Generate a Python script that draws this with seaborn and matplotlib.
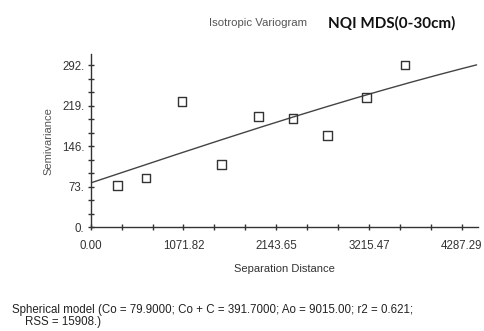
import numpy as np
import pandas as pd
import matplotlib
matplotlib.use("Agg")
import matplotlib.pyplot as plt
from matplotlib.ticker import MultipleLocator
import seaborn as sns

# Data
lag_distance = [307, 639, 1055, 1514, 1941, 2338, 2739, 3186, 3632]
semivariance = [75, 89, 226, 113, 199, 196, 165, 234, 292]

# Spherical model parameters (from the caption)
nugget = 79.9
sill = 391.7
model_range = 9015.0

x_ticks = [0.00, 1071.82, 2143.65, 3215.47, 4287.29]
x_ticklabels = ["0.00", "1071.82", "2143.65", "3215.47", "4287.29"]
y_ticks = [0, 73, 146, 219, 292]
y_ticklabels = ["0.", "73.", "146.", "219.", "292."]

sns.set_style("white")
plt.rcParams["font.family"] = ["Liberation Sans", "DejaVu Sans"]

fig = plt.figure(figsize=(4.84, 3.31), dpi=100)
ax = fig.add_axes([0.1874, 0.3133, 0.8002, 0.5236])

pts = pd.DataFrame({"h": lag_distance, "g": semivariance})
h = np.linspace(0, 4460, 200)
hr = h / model_range
gamma = nugget + (sill - nugget) * (1.5 * hr - 0.5 * hr ** 3)
model = pd.DataFrame({"h": h, "g": gamma})

sns.lineplot(data=model, x="h", y="g", ax=ax, color="#444444", linewidth=1.0)
sns.scatterplot(data=pts, x="h", y="g", ax=ax, marker="s", s=38,
                facecolor="none", edgecolor="#333333", linewidth=1.0, zorder=3)

ax.set_xlim(0, 4476)
ax.set_ylim(0, 312)
ax.set_xticks(x_ticks)
ax.set_xticklabels(x_ticklabels)
ax.set_yticks(y_ticks)
ax.set_yticklabels(y_ticklabels)
ax.xaxis.set_minor_locator(MultipleLocator(1071.82 / 3))
ax.yaxis.set_minor_locator(MultipleLocator(73 / 3))

for s in ["top", "right"]:
    ax.spines[s].set_visible(False)
for s in ["left", "bottom"]:
    ax.spines[s].set_color("#333333")
    ax.spines[s].set_linewidth(1.0)

ax.tick_params(axis="both", which="both", direction="inout", color="#333333",
               bottom=True, left=True, top=False, right=False,
               labelsize=8.3, labelcolor="#333333")
ax.tick_params(axis="both", which="major", length=5, width=1.0)
ax.tick_params(axis="both", which="minor", length=5, width=1.0)
ax.tick_params(axis="x", pad=7)
ax.tick_params(axis="y", pad=2)

ax.set_xlabel("Separation Distance", fontsize=8, color="#333333", labelpad=8)
ax.set_ylabel("Semivariance", fontsize=8, color="#555555", labelpad=6)

fig.text(0.533, 0.93, "Isotropic Variogram", fontsize=8.2, color="#555555",
         ha="center", va="center")
fig.text(0.809, 0.928, "NQI MDS(0-30cm)", fontsize=11, fontweight="bold",
         family=["Lato", "DejaVu Sans"], color="#111111", ha="center", va="center")

fig.text(0.024, 0.064, "Spherical model (Co = 79.9000; Co + C = 391.7000; Ao = 9015.00; r2 = 0.621;",
         fontsize=8.3, color="#222222", ha="left", va="center")
fig.text(0.052, 0.026, "RSS = 15908.)", fontsize=8.3, color="#222222", ha="left", va="center")

fig.savefig("out.png", dpi=100, facecolor="white")
